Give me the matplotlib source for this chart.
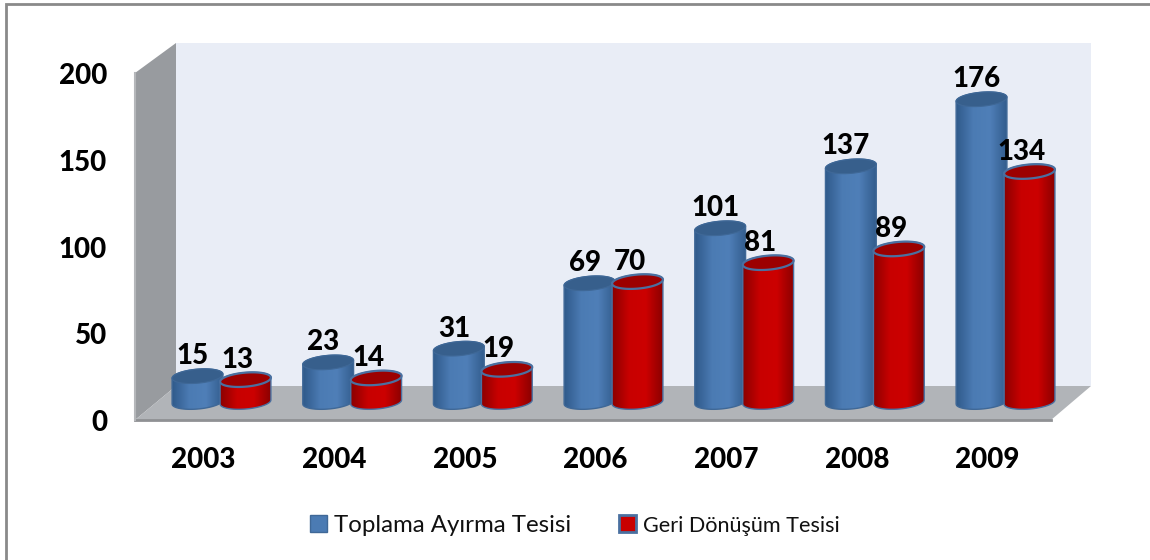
import numpy as np
import matplotlib
matplotlib.use('Agg')
import matplotlib.pyplot as plt
from matplotlib.colors import LinearSegmentedColormap
from matplotlib.patches import Patch, PathPatch, Polygon
from matplotlib.path import Path
from matplotlib.transforms import Affine2D

years = ['2003', '2004', '2005', '2006', '2007', '2008', '2009']
toplama = [15, 23, 31, 69, 101, 137, 176]
geri_donusum = [13, 14, 19, 70, 81, 89, 134]
y_ticks = [0, 50, 100, 150, 200]
series_names = ['Toplama Ayırma Tesisi', 'Geri Dönüşüm Tesisi']

W, H = 1150, 560
# scale of the bar plane, pixels per group / pixels per unit
PX_X = 130.67
PX_Y = 1.72
TICK_PX_Y = 1.735
X0 = 221.5
Y0 = 402

plt.rcParams['font.family'] = ['Lato', 'DejaVu Sans']

fig = plt.figure(figsize=(W / 100, H / 100), dpi=100)
ax = fig.add_axes([0, 0, 1, 1])
ax.set_axis_off()

# pixel coordinates for the chart furniture (origin top left)
px = Affine2D().scale(1, -1).translate(0, H)

ax.add_patch(Polygon([(176, 43), (1091, 43), (1091, 386), (176, 386)], transform=px, fc='#e9edf6', ec='none', zorder=1))
ax.add_patch(Polygon([(135, 73), (176, 43), (176, 386), (135, 420)], transform=px, fc='#989b9f', ec='none', zorder=1))
ax.add_patch(Polygon([(135, 420), (176, 386), (1091, 386), (1051, 420)], transform=px, fc='#b1b4b8', ec='none', zorder=2))
ax.plot([135, 1051], [420, 420], transform=px, color='#8f9194', lw=2, zorder=2)
ax.plot([135, 135], [73, 420], transform=px, color='#b5b7ba', lw=1.5, zorder=2)
ax.plot([6, 6, W], [H, 3.5, 3.5], transform=px, color='#8a8a8a', lw=2, zorder=2, solid_joinstyle='miter')

blue_cmap = LinearSegmentedColormap.from_list('b', ['#305a8b', '#4b7bb3', '#4f7fb8', '#335d8e'])
red_cmap = LinearSegmentedColormap.from_list('r', ['#8c0000', '#c80000', '#cc0000', '#8c0000'])


def ring(cx, val, t):
    # point on the tilted ellipse of a cylinder end, returned in data units
    a, b, tilt = 25.5, 7, np.radians(5)
    dx = a * np.cos(t) * np.cos(tilt) - b * np.sin(t) * np.sin(tilt)
    dy = a * np.cos(t) * np.sin(tilt) + b * np.sin(t) * np.cos(tilt)
    return np.column_stack([cx + dx / PX_X, val + dy / PX_Y])


def cylinder(cx, val, cmap, top_color, edge, z):
    low = ring(cx, 0, np.linspace(np.pi, 2 * np.pi, 40))
    up = ring(cx, val, np.linspace(0, np.pi, 40))
    body = np.vstack([low, up, low[:1]])
    path = Path(body)
    outline = PathPatch(path, fc='none', ec=edge, lw=1, zorder=z + 0.1)
    ax.add_patch(outline)
    img = ax.imshow(np.linspace(0, 1, 64).reshape(1, -1), cmap=cmap, aspect='auto', interpolation='bilinear',
                    extent=[body[:, 0].min(), body[:, 0].max(), -5, val + 5], zorder=z)
    img.set_clip_path(PathPatch(path, transform=ax.transData))
    top = ring(cx, val, np.linspace(0, 2 * np.pi, 80))
    ax.add_patch(Polygon(top, closed=True, fc=top_color, ec=edge, lw=1.6 if top_color == '#9c0000' else 0.8, zorder=z + 0.2))


z = 3
for i in range(len(years)):
    cylinder(i - 24 / PX_X, toplama[i], blue_cmap, '#375f8c', '#3f6897', z)
    cylinder(i + 24 / PX_X, geri_donusum[i], red_cmap, '#9c0000', '#4a70a0', z + 1)
    z += 2

label_style = dict(ha='center', va='center', fontsize=20, fontweight=900, color='black', zorder=50)
for i in range(len(years)):
    ax.text(i - 29 / PX_X, toplama[i] + 20 / PX_Y, str(toplama[i]), **label_style)
    ax.text(i + 16 / PX_X, geri_donusum[i] + 20 / PX_Y, str(geri_donusum[i]), **label_style)
    ax.text(i - 18 / PX_X, (Y0 - 460) / PX_Y, years[i], **label_style)

# value labels sit on the front edge of the wall
for v in y_ticks:
    ax.text(107, 423 - v * TICK_PX_Y, str(v), transform=px, ha='right', va='center', fontsize=20, fontweight=900, zorder=50)

handles = [Patch(fc='#4b7bb3', ec='#3f6897', lw=1), Patch(fc='#c80000', ec='#4a70a0', lw=2)]
leg = ax.legend(handles, series_names, ncol=2, frameon=False, fontsize=17.3, loc='center', bbox_to_anchor=(575 / W, 1 - 525 / H),
                handlelength=0.7, handleheight=0.7, handletextpad=0.3, columnspacing=2.0, borderpad=0, labelcolor='#111111')
leg.get_texts()[1].set_fontsize(15.6)

ax.set_xlim((0 - X0) / PX_X, (W - X0) / PX_X)
ax.set_ylim((Y0 - H) / PX_Y, Y0 / PX_Y)

fig.savefig('out.png', dpi=100, facecolor='white')
